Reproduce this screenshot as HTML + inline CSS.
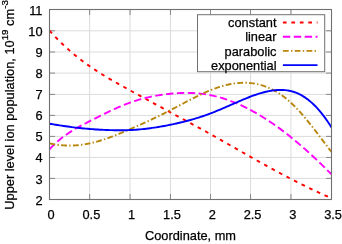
<!DOCTYPE html>
<html><head><meta charset="utf-8"><style>
html,body{margin:0;padding:0;background:#fff;}
svg{display:block;opacity:0.999;will-change:transform}
text{font-family:"Liberation Sans",sans-serif;font-size:12.8px;fill:#000;stroke:#000;stroke-width:0.25px}
</style></head><body>
<svg width="342" height="244" viewBox="0 0 342 244">
<rect width="342" height="244" fill="#fff"/>
<g stroke="#dcdcdc" stroke-width="1" fill="none"><path d="M89.65,9.5 V199.5"/><path d="M130.06,9.5 V199.5"/><path d="M170.45,9.5 V199.5"/><path d="M210.50,9.5 V199.5"/><path d="M250.55,9.5 V199.5"/><path d="M290.95,9.5 V199.5"/><path d="M49.5,178.40 H331.5"/><path d="M49.5,157.45 H331.5"/><path d="M49.5,136.40 H331.5"/><path d="M49.5,115.40 H331.5"/><path d="M49.5,94.40 H331.5"/><path d="M49.5,73.10 H331.5"/><path d="M49.5,52.00 H331.5"/><path d="M49.5,30.80 H331.5"/></g>
<g stroke="#888" stroke-width="1" fill="none"><path d="M89.65,199.5 v-5.5 M89.65,9.5 v5.5"/><path d="M130.06,199.5 v-5.5 M130.06,9.5 v5.5"/><path d="M170.45,199.5 v-5.5 M170.45,9.5 v5.5"/><path d="M210.50,199.5 v-5.5 M210.50,9.5 v5.5"/><path d="M250.55,199.5 v-5.5 M250.55,9.5 v5.5"/><path d="M290.95,199.5 v-5.5 M290.95,9.5 v5.5"/><path d="M49.5,178.40 h5.5 M331.5,178.40 h-5.5"/><path d="M49.5,157.45 h5.5 M331.5,157.45 h-5.5"/><path d="M49.5,136.40 h5.5 M331.5,136.40 h-5.5"/><path d="M49.5,115.40 h5.5 M331.5,115.40 h-5.5"/><path d="M49.5,94.40 h5.5 M331.5,94.40 h-5.5"/><path d="M49.5,73.10 h5.5 M331.5,73.10 h-5.5"/><path d="M49.5,52.00 h5.5 M331.5,52.00 h-5.5"/><path d="M49.5,30.80 h5.5 M331.5,30.80 h-5.5"/></g>
<g fill="none" stroke-width="1.9" stroke-linejoin="round">
<path d="M49.50,30.61 L51.51,32.85 L53.53,35.03 L55.54,37.15 L57.56,39.22 L59.57,41.24 L61.59,43.21 L63.60,45.13 L65.61,47.01 L67.63,48.83 L69.64,50.62 L71.66,52.35 L73.67,54.05 L75.69,55.71 L77.70,57.33 L79.71,58.90 L81.73,60.45 L83.74,61.96 L85.76,63.43 L87.77,64.88 L89.79,66.29 L91.80,67.67 L93.81,69.03 L95.83,70.36 L97.84,71.67 L99.86,72.95 L101.87,74.21 L103.89,75.45 L105.90,76.67 L107.91,77.87 L109.93,79.06 L111.94,80.23 L113.96,81.39 L115.97,82.54 L117.99,83.67 L120.00,84.80 L122.01,85.92 L124.03,87.04 L126.04,88.15 L128.06,89.25 L130.07,90.36 L132.09,91.46 L134.10,92.56 L136.11,93.66 L138.13,94.77 L140.14,95.87 L142.16,96.97 L144.17,98.07 L146.19,99.17 L148.20,100.27 L150.21,101.37 L152.23,102.46 L154.24,103.56 L156.26,104.66 L158.27,105.75 L160.29,106.85 L162.30,107.94 L164.31,109.04 L166.33,110.13 L168.34,111.22 L170.36,112.31 L172.37,113.40 L174.39,114.49 L176.40,115.58 L178.41,116.67 L180.43,117.76 L182.44,118.85 L184.46,119.94 L186.47,121.03 L188.49,122.12 L190.50,123.21 L192.51,124.31 L194.53,125.40 L196.54,126.50 L198.56,127.60 L200.57,128.70 L202.59,129.81 L204.60,130.92 L206.61,132.03 L208.63,133.15 L210.64,134.27 L212.66,135.39 L214.67,136.52 L216.69,137.65 L218.70,138.78 L220.71,139.92 L222.73,141.06 L224.74,142.20 L226.76,143.34 L228.77,144.48 L230.79,145.63 L232.80,146.77 L234.81,147.92 L236.83,149.07 L238.84,150.21 L240.86,151.36 L242.87,152.50 L244.89,153.65 L246.90,154.79 L248.91,155.93 L250.93,157.07 L252.94,158.20 L254.96,159.34 L256.97,160.47 L258.99,161.59 L261.00,162.72 L263.01,163.84 L265.03,164.95 L267.04,166.07 L269.06,167.17 L271.07,168.28 L273.09,169.38 L275.10,170.47 L277.11,171.56 L279.13,172.64 L281.14,173.72 L283.16,174.79 L285.17,175.86 L287.19,176.92 L289.20,177.97 L291.21,179.02 L293.23,180.06 L295.24,181.10 L297.26,182.12 L299.27,183.14 L301.29,184.15 L303.30,185.15 L305.31,186.15 L307.33,187.13 L309.34,188.11 L311.36,189.08 L313.37,190.04 L315.39,190.99 L317.40,191.93 L319.41,192.86 L321.43,193.78 L323.44,194.70 L325.46,195.60 L327.47,196.49 L329.49,197.37 L331.50,198.23" stroke="#ff0000" stroke-dasharray="3.7,4.77"/>
<path d="M49.50,149.26 L51.51,147.14 L53.53,145.14 L55.54,143.25 L57.56,141.44 L59.57,139.74 L61.59,138.11 L63.60,136.57 L65.61,135.10 L67.63,133.70 L69.64,132.37 L71.66,131.09 L73.67,129.86 L75.69,128.68 L77.70,127.53 L79.71,126.42 L81.73,125.34 L83.74,124.28 L85.76,123.24 L87.77,122.21 L89.79,121.18 L91.80,120.15 L93.81,119.12 L95.83,118.10 L97.84,117.08 L99.86,116.06 L101.87,115.05 L103.89,114.05 L105.90,113.06 L107.91,112.09 L109.93,111.12 L111.94,110.18 L113.96,109.24 L115.97,108.33 L117.99,107.44 L120.00,106.57 L122.01,105.72 L124.03,104.90 L126.04,104.10 L128.06,103.34 L130.07,102.60 L132.09,101.89 L134.10,101.22 L136.11,100.58 L138.13,99.96 L140.14,99.38 L142.16,98.82 L144.17,98.29 L146.19,97.79 L148.20,97.32 L150.21,96.87 L152.23,96.45 L154.24,96.05 L156.26,95.68 L158.27,95.34 L160.29,95.01 L162.30,94.71 L164.31,94.44 L166.33,94.18 L168.34,93.95 L170.36,93.73 L172.37,93.54 L174.39,93.37 L176.40,93.22 L178.41,93.10 L180.43,93.00 L182.44,92.93 L184.46,92.88 L186.47,92.87 L188.49,92.89 L190.50,92.93 L192.51,93.01 L194.53,93.12 L196.54,93.26 L198.56,93.44 L200.57,93.65 L202.59,93.89 L204.60,94.17 L206.61,94.48 L208.63,94.83 L210.64,95.21 L212.66,95.63 L214.67,96.09 L216.69,96.58 L218.70,97.11 L220.71,97.68 L222.73,98.28 L224.74,98.91 L226.76,99.58 L228.77,100.28 L230.79,101.02 L232.80,101.79 L234.81,102.60 L236.83,103.43 L238.84,104.31 L240.86,105.21 L242.87,106.14 L244.89,107.11 L246.90,108.11 L248.91,109.14 L250.93,110.20 L252.94,111.29 L254.96,112.41 L256.97,113.57 L258.99,114.75 L261.00,115.96 L263.01,117.20 L265.03,118.47 L267.04,119.76 L269.06,121.09 L271.07,122.44 L273.09,123.82 L275.10,125.23 L277.11,126.67 L279.13,128.13 L281.14,129.61 L283.16,131.13 L285.17,132.67 L287.19,134.23 L289.20,135.82 L291.21,137.43 L293.23,139.07 L295.24,140.73 L297.26,142.42 L299.27,144.13 L301.29,145.86 L303.30,147.61 L305.31,149.39 L307.33,151.19 L309.34,153.01 L311.36,154.85 L313.37,156.71 L315.39,158.60 L317.40,160.50 L319.41,162.43 L321.43,164.37 L323.44,166.33 L325.46,168.32 L327.47,170.32 L329.49,172.34 L331.50,174.38" stroke="#ff00ff" stroke-dasharray="7.4,3.5"/>
<path d="M49.50,143.34 L51.51,143.78 L53.53,144.17 L55.54,144.50 L57.56,144.79 L59.57,145.04 L61.59,145.23 L63.60,145.38 L65.61,145.49 L67.63,145.55 L69.64,145.56 L71.66,145.53 L73.67,145.46 L75.69,145.34 L77.70,145.18 L79.71,144.98 L81.73,144.73 L83.74,144.44 L85.76,144.12 L87.77,143.75 L89.79,143.34 L91.80,142.90 L93.81,142.42 L95.83,141.90 L97.84,141.34 L99.86,140.76 L101.87,140.14 L103.89,139.49 L105.90,138.82 L107.91,138.12 L109.93,137.39 L111.94,136.65 L113.96,135.88 L115.97,135.10 L117.99,134.29 L120.00,133.47 L122.01,132.64 L124.03,131.79 L126.04,130.94 L128.06,130.07 L130.07,129.20 L132.09,128.32 L134.10,127.44 L136.11,126.55 L138.13,125.65 L140.14,124.75 L142.16,123.84 L144.17,122.92 L146.19,121.99 L148.20,121.06 L150.21,120.12 L152.23,119.17 L154.24,118.21 L156.26,117.24 L158.27,116.27 L160.29,115.28 L162.30,114.29 L164.31,113.28 L166.33,112.26 L168.34,111.24 L170.36,110.20 L172.37,109.15 L174.39,108.09 L176.40,107.03 L178.41,105.96 L180.43,104.89 L182.44,103.82 L184.46,102.75 L186.47,101.69 L188.49,100.64 L190.50,99.59 L192.51,98.55 L194.53,97.53 L196.54,96.53 L198.56,95.54 L200.57,94.58 L202.59,93.64 L204.60,92.72 L206.61,91.83 L208.63,90.97 L210.64,90.14 L212.66,89.35 L214.67,88.60 L216.69,87.88 L218.70,87.20 L220.71,86.56 L222.73,85.97 L224.74,85.42 L226.76,84.91 L228.77,84.46 L230.79,84.05 L232.80,83.70 L234.81,83.40 L236.83,83.15 L238.84,82.96 L240.86,82.83 L242.87,82.76 L244.89,82.75 L246.90,82.80 L248.91,82.92 L250.93,83.11 L252.94,83.36 L254.96,83.68 L256.97,84.08 L258.99,84.54 L261.00,85.08 L263.01,85.70 L265.03,86.39 L267.04,87.16 L269.06,88.00 L271.07,88.93 L273.09,89.95 L275.10,91.04 L277.11,92.23 L279.13,93.50 L281.14,94.85 L283.16,96.30 L285.17,97.84 L287.19,99.47 L289.20,101.20 L291.21,103.02 L293.23,104.94 L295.24,106.95 L297.26,109.05 L299.27,111.22 L301.29,113.47 L303.30,115.79 L305.31,118.17 L307.33,120.60 L309.34,123.08 L311.36,125.61 L313.37,128.18 L315.39,130.77 L317.40,133.40 L319.41,136.04 L321.43,138.70 L323.44,141.37 L325.46,144.04 L327.47,146.70 L329.49,149.36 L331.50,152.00" stroke="#b8860b" stroke-dasharray="5.8,2.3,1.4,2.3"/>
<path d="M49.50,123.71 L51.51,124.06 L53.53,124.40 L55.54,124.73 L57.56,125.05 L59.57,125.37 L61.59,125.68 L63.60,125.97 L65.61,126.26 L67.63,126.54 L69.64,126.81 L71.66,127.07 L73.67,127.32 L75.69,127.57 L77.70,127.80 L79.71,128.02 L81.73,128.24 L83.74,128.44 L85.76,128.63 L87.77,128.82 L89.79,128.99 L91.80,129.15 L93.81,129.30 L95.83,129.44 L97.84,129.57 L99.86,129.69 L101.87,129.80 L103.89,129.90 L105.90,129.98 L107.91,130.06 L109.93,130.12 L111.94,130.17 L113.96,130.21 L115.97,130.24 L117.99,130.26 L120.00,130.26 L122.01,130.25 L124.03,130.22 L126.04,130.18 L128.06,130.12 L130.07,130.04 L132.09,129.95 L134.10,129.83 L136.11,129.69 L138.13,129.53 L140.14,129.36 L142.16,129.16 L144.17,128.95 L146.19,128.72 L148.20,128.48 L150.21,128.21 L152.23,127.93 L154.24,127.64 L156.26,127.33 L158.27,127.01 L160.29,126.67 L162.30,126.31 L164.31,125.95 L166.33,125.57 L168.34,125.17 L170.36,124.77 L172.37,124.35 L174.39,123.92 L176.40,123.48 L178.41,123.02 L180.43,122.55 L182.44,122.06 L184.46,121.56 L186.47,121.04 L188.49,120.51 L190.50,119.96 L192.51,119.39 L194.53,118.80 L196.54,118.20 L198.56,117.57 L200.57,116.92 L202.59,116.26 L204.60,115.57 L206.61,114.86 L208.63,114.12 L210.64,113.37 L212.66,112.59 L214.67,111.79 L216.69,110.97 L218.70,110.13 L220.71,109.28 L222.73,108.42 L224.74,107.55 L226.76,106.67 L228.77,105.79 L230.79,104.90 L232.80,104.02 L234.81,103.14 L236.83,102.26 L238.84,101.39 L240.86,100.53 L242.87,99.69 L244.89,98.86 L246.90,98.04 L248.91,97.25 L250.93,96.48 L252.94,95.73 L254.96,95.01 L256.97,94.33 L258.99,93.67 L261.00,93.06 L263.01,92.49 L265.03,91.97 L267.04,91.50 L269.06,91.08 L271.07,90.73 L273.09,90.43 L275.10,90.20 L277.11,90.03 L279.13,89.94 L281.14,89.93 L283.16,89.99 L285.17,90.14 L287.19,90.39 L289.20,90.73 L291.21,91.18 L293.23,91.74 L295.24,92.42 L297.26,93.22 L299.27,94.15 L301.29,95.19 L303.30,96.37 L305.31,97.67 L307.33,99.11 L309.34,100.68 L311.36,102.39 L313.37,104.24 L315.39,106.22 L317.40,108.36 L319.41,110.64 L321.43,113.06 L323.44,115.64 L325.46,118.37 L327.47,121.26 L329.49,124.31 L331.50,127.51" stroke="#0000ff"/>
</g>
<rect x="197.5" y="14.7" width="127.2" height="57" fill="#fff" stroke="#707070" stroke-width="1"/>
<text x="276.5" y="27.10" text-anchor="end">constant</text><path d="M282.9,22.5 H317.5" stroke="#ff0000" stroke-width="1.9" fill="none" stroke-dasharray="3.7,4.77"/><text x="276.5" y="41.30" text-anchor="end">linear</text><path d="M282.9,36.7 H317.5" stroke="#ff00ff" stroke-width="1.9" fill="none" stroke-dasharray="7.4,3.5"/><text x="276.5" y="55.50" text-anchor="end">parabolic</text><path d="M282.9,50.9 H317.5" stroke="#b8860b" stroke-width="1.9" fill="none" stroke-dasharray="5.8,2.3,1.4,2.3"/><text x="276.5" y="69.70" text-anchor="end">exponential</text><path d="M282.9,65.1 H317.5" stroke="#0000ff" stroke-width="1.9" fill="none"/>
<rect x="49.5" y="9.5" width="282.0" height="190.0" fill="none" stroke="#707070" stroke-width="1.1"/>
<text x="51.10" y="218.5" text-anchor="middle">0</text><text x="91.39" y="218.5" text-anchor="middle">0.5</text><text x="131.67" y="218.5" text-anchor="middle">1</text><text x="171.96" y="218.5" text-anchor="middle">1.5</text><text x="212.24" y="218.5" text-anchor="middle">2</text><text x="252.53" y="218.5" text-anchor="middle">2.5</text><text x="292.81" y="218.5" text-anchor="middle">3</text><text x="333.10" y="218.5" text-anchor="middle">3.5</text><text x="42.5" y="204.70" text-anchor="end">2</text><text x="42.5" y="183.59" text-anchor="end">3</text><text x="42.5" y="162.48" text-anchor="end">4</text><text x="42.5" y="141.37" text-anchor="end">5</text><text x="42.5" y="120.26" text-anchor="end">6</text><text x="42.5" y="99.14" text-anchor="end">7</text><text x="42.5" y="78.03" text-anchor="end">8</text><text x="42.5" y="56.92" text-anchor="end">9</text><text x="42.5" y="35.81" text-anchor="end">10</text><text x="42.5" y="14.70" text-anchor="end">11</text>
<text x="190.5" y="240" text-anchor="middle">Coordinate, mm</text>
<text transform="translate(13.6,104.9) rotate(-90)" text-anchor="middle">Upper level ion population, 10<tspan font-size="9.8" dy="-5.8">19</tspan><tspan dy="5.8"> cm</tspan><tspan font-size="9.8" dy="-5.8">-3</tspan></text>
</svg></body></html>
